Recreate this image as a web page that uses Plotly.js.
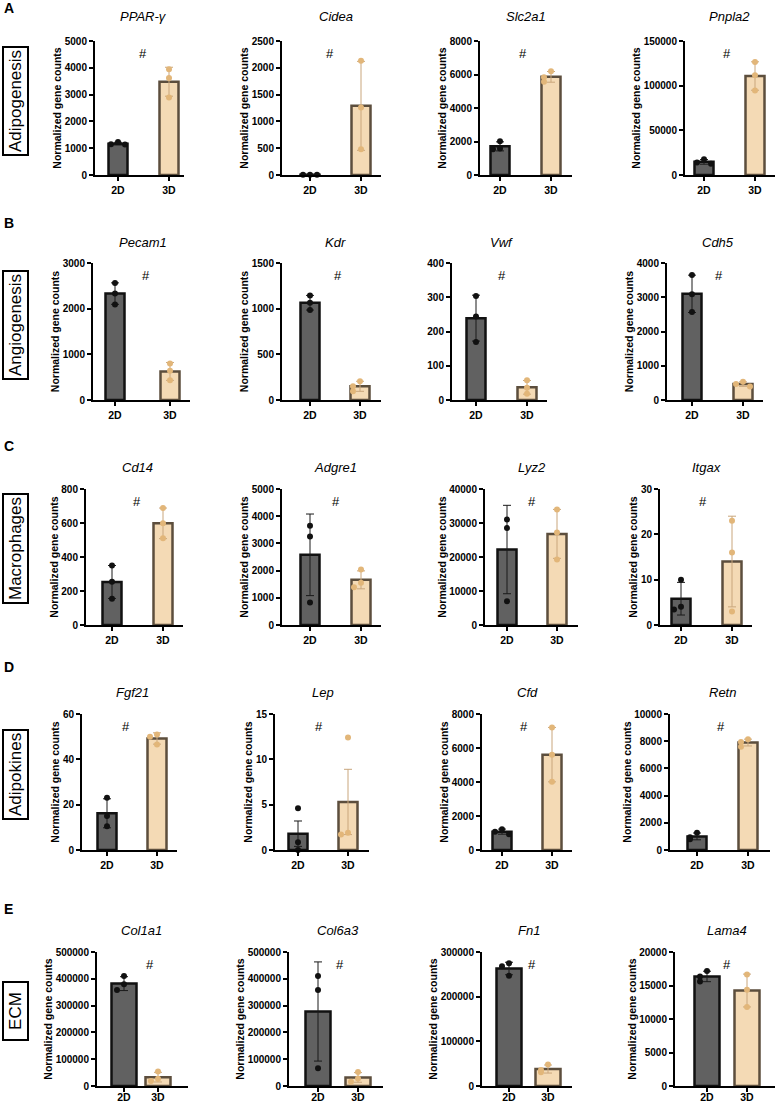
<!DOCTYPE html>
<html>
<head>
<meta charset="utf-8">
<script src="https://cdn.plot.ly/plotly-3.0.1.min.js"></script>
<style>
  html, body { margin: 0; padding: 0; background: white; }
  #fig { width: 775px; height: 1105px; }
</style>
</head>
<body>
<div id="fig"></div>
<script>
// values (normalized gene counts, mean / error / replicate points)
const genes = ['PPAR-γ', 'Cidea', 'Slc2a1', 'Pnpla2',
  'Pecam1', 'Kdr', 'Vwf', 'Cdh5',
  'Cd14', 'Adgre1', 'Lyz2', 'Itgax',
  'Fgf21', 'Lep', 'Cfd', 'Retn',
  'Col1a1', 'Col6a3', 'Fn1', 'Lama4'];
const conditions = ['2D', '3D'];
const rowLetters = ['A', 'B', 'C', 'D', 'E'];
const rowLabels = ['Adipogenesis', 'Angiogenesis', 'Macrophages', 'Adipokines', 'ECM'];
const yTitles = genes.map((g) => (g === 'Vwf' ? '' : 'Normalized gene counts'));

const yMax = [5000, 2500, 8000, 150000,
  3000, 1500, 400, 4000,
  800, 5000, 40000, 30,
  60, 15, 8000, 10000,
  500000, 500000, 300000, 20000];
const yStep = [1000, 500, 2000, 50000,
  1000, 500, 100, 1000,
  200, 1000, 10000, 10,
  20, 5, 2000, 2000,
  100000, 100000, 100000, 5000];

const mean2D = [1170, 5, 1710, 14700,
  2330, 1065, 239, 3100,
  253, 2580, 22200, 5.8,
  16.2, 1.8, 1080, 1000,
  382000, 278000, 263000, 16350];
const err2D = [50, 2, 270, 2600,
  235, 80, 67, 545,
  97, 1500, 13000, 3.6,
  6.4, 1.4, 150, 250,
  26000, 185000, 14000, 780];
const pts2D = [
  [1230, 1150, 1140], [5, 4, 6], [2020, 1580, 1530], [17500, 14000, 12500],
  [2560, 2330, 2090], [1145, 1065, 985], [304, 244, 169], [3650, 3090, 2570],
  [350, 255, 155], [3650, 3250, 830], [31000, 28500, 7000], [10.0, 4.0, 3.4],
  [23.0, 15.0, 10.5], [4.6, 0.85, 0.0], [1220, 1080, 930], [1270, 930, 790],
  [410000, 380000, 358000], [410000, 358000, 66000], [275000, 268000, 247000], [17150, 16350, 15580]];

const mean3D = [3480, 1290, 5860, 110800,
  625, 150, 37, 465,
  598, 1660, 26800, 14.0,
  49.2, 5.3, 5610, 7900,
  33000, 32000, 38000, 14250];
const err3D = [540, 830, 320, 15900,
  195, 55, 20, 65,
  90, 330, 7200, 10.0,
  2.5, 3.6, 1600, 250,
  18000, 18000, 9000, 2450];
const pts3D = [
  [3950, 3620, 2890], [2130, 1260, 480], [6190, 5840, 5560], [126400, 111700, 94700],
  [800, 640, 430], [205, 150, 95], [58, 36, 18], [530, 470, 395],
  [688, 598, 510], [2040, 1550, 1390], [34000, 27200, 19300], [23.0, 16.0, 3.0],
  [51.0, 50.0, 46.5], [12.4, 1.9, 1.7], [7210, 5600, 4020], [8150, 7950, 7600],
  [54000, 27000, 19000], [52000, 28000, 16000], [48000, 36000, 31000], [16660, 14350, 11790]];

// page geometry in pixels: [y-axis x, 2D centre, 3D centre, x-axis end]
const W = 775, H = 1105;
const PANEL_X = [
  [95, 118, 169, 184], [282, 310, 361, 381], [480, 500, 551, 572], [685, 704, 755, 775],
  [93, 115, 170, 190], [282, 310, 360, 381], [452, 476, 527, 547], [667, 692, 743, 763],
  [86, 112, 163, 183], [282, 310, 361, 381], [485, 507, 557, 578], [660, 681, 732, 752],
  [82, 107, 157, 177], [275, 298, 348, 369], [482, 502, 552, 572], [670, 697, 748, 770],
  [97, 124, 158, 188], [289, 318, 358, 383], [482, 509, 548, 572], [675, 707, 747, 775]];
const ROW_Y = [[41, 175], [263, 400], [489, 625], [714, 850], [952, 1086]];
const TITLE_Y = [17, 242, 467, 692, 930];
const LETTER_Y = [8, 223, 446, 667, 909];
const BOX_Y = [101, 325, 549, 775, 1011];
const BAR_PX = [19, 19, 19, 19, 25];
const XLABEL_SHIFT = [0, 0, 0, 0, -4];
const HASH_X = [0.49, 0.39, 0.45, 0.45, 0.56, 0.56, 0.51, 0.53, 0.49, 0.51, 0.5, 0.43,
  0.38, 0.42, 0.44, 0.47, 0.76, 0.55, 0.6, 0.5];

const FONT = 'Liberation Sans, Arial, sans-serif';
const STYLE = {
  '2D': { fill: '#616161', line: '#111111', dot: '#111111', err: '#1a1a1a' },
  '3D': { fill: '#f4dab5', line: '#5c4e3d', dot: '#e2b679', err: '#c9a67c' },
};

// spread replicate dots sideways when they would overlap
function jitter(values, pxPerUnit, unitPx) {
  const offsets = [];
  values.forEach((v, i) => {
    let hits = 0;
    for (let j = 0; j < i; j++) if (Math.abs(values[j] - v) * pxPerUnit < 6) hits++;
    offsets.push(hits === 0 ? 0 : (hits % 2 ? -1 : 1) * Math.ceil(hits / 2) * 7 / unitPx);
  });
  return offsets;
}

const traces = [];
const layout = {
  width: W, height: H,
  margin: { l: 0, r: 0, t: 0, b: 0 },
  paper_bgcolor: 'white', plot_bgcolor: 'white',
  showlegend: false,
  font: { family: FONT, color: '#000' },
  annotations: [],
};

genes.forEach((gene, i) => {
  const n = i + 1;
  const row = Math.floor(i / 4);
  const [ax, c2, c3, xEnd] = PANEL_X[i];
  const [yTop, yZero] = ROW_Y[row];
  const unitPx = c3 - c2;
  const pxPerUnit = (yZero - yTop) / yMax[i];
  const xa = 'x' + n, ya = 'y' + n;
  const barW = BAR_PX[row] / unitPx;

  [[mean2D, err2D, pts2D], [mean3D, err3D, pts3D]].forEach(([means, errs, pts], k) => {
    const st = STYLE[conditions[k]];
    traces.push({
      type: 'bar', x: [k], y: [means[i]], width: [barW],
      xaxis: xa, yaxis: ya, hoverinfo: 'skip',
      marker: { color: st.fill, line: { color: st.line, width: 2.5 } },
      error_y: { type: 'data', array: [errs[i]], visible: true, color: st.err, thickness: 1, width: 4 },
    });
    const off = jitter(pts[i], pxPerUnit, unitPx);
    traces.push({
      type: 'scatter', mode: 'markers', xaxis: xa, yaxis: ya, cliponaxis: false,
      x: pts[i].map((_, j) => k + off[j]), y: pts[i],
      marker: { color: st.dot, size: 6 },
    });
  });

  const axKey = n === 1 ? '' : n;
  layout['xaxis' + axKey] = {
    domain: [ax / W, xEnd / W],
    range: [-(c2 - ax) / unitPx, 1 + (xEnd - c3) / unitPx],
    anchor: ya, tickvals: [0, 1], ticktext: conditions,
    showline: true, linecolor: '#000', linewidth: 2,
    ticks: 'outside', ticklen: 4, tickwidth: 2, tickcolor: '#000',
    ticklabelstandoff: XLABEL_SHIFT[row],
    showgrid: false, zeroline: false, fixedrange: true,
    tickfont: { family: FONT, size: 10.5, weight: 'bold', color: '#000' },
  };
  layout['yaxis' + axKey] = {
    domain: [(H - yZero) / H, (H - yTop) / H],
    range: [0, yMax[i]], tick0: 0, dtick: yStep[i], tickformat: 'd',
    anchor: xa,
    showline: true, linecolor: '#000', linewidth: 2,
    ticks: 'outside', ticklen: 4, tickwidth: 2, tickcolor: '#000',
    showgrid: false, zeroline: false, fixedrange: true,
    tickfont: { family: FONT, size: 10, weight: 'bold', color: '#000' },
    title: { text: yTitles[i], standoff: 1, font: { family: FONT, size: 10.5, weight: 'bold', color: '#000' } },
  };

  layout.annotations.push({
    text: '<i>' + gene + '</i>', xref: xa, x: 0.5, yref: 'paper', y: 1 - TITLE_Y[row] / H,
    yanchor: 'middle', showarrow: false, font: { family: FONT, size: 13, color: '#000' },
  });
  layout.annotations.push({
    text: '#', xref: xa, x: HASH_X[i], yref: ya + ' domain', y: 0.91,
    yanchor: 'middle', showarrow: false, font: { family: FONT, size: 13, color: '#000' },
  });
});

rowLabels.forEach((label, r) => {
  layout.annotations.push({
    text: rowLetters[r], xref: 'paper', yref: 'paper', x: 2 / W, y: 1 - LETTER_Y[r] / H,
    xanchor: 'left', yanchor: 'middle', showarrow: false,
    font: { family: FONT, size: 14, weight: 'bold', color: '#000' },
  });
  const box = {
    text: label, xref: 'paper', yref: 'paper', x: 15 / W, y: 1 - BOX_Y[r] / H,
    xanchor: 'center', yanchor: 'middle', textangle: -90, showarrow: false,
    bordercolor: '#000', borderwidth: 2, borderpad: 2, bgcolor: 'white',
    font: { family: FONT, size: 17, color: '#000' },
  };
  if (label === 'ECM') box.width = 52;
  layout.annotations.push(box);
});

Plotly.newPlot('fig', traces, layout, { staticPlot: true });
</script>
</body>
</html>
